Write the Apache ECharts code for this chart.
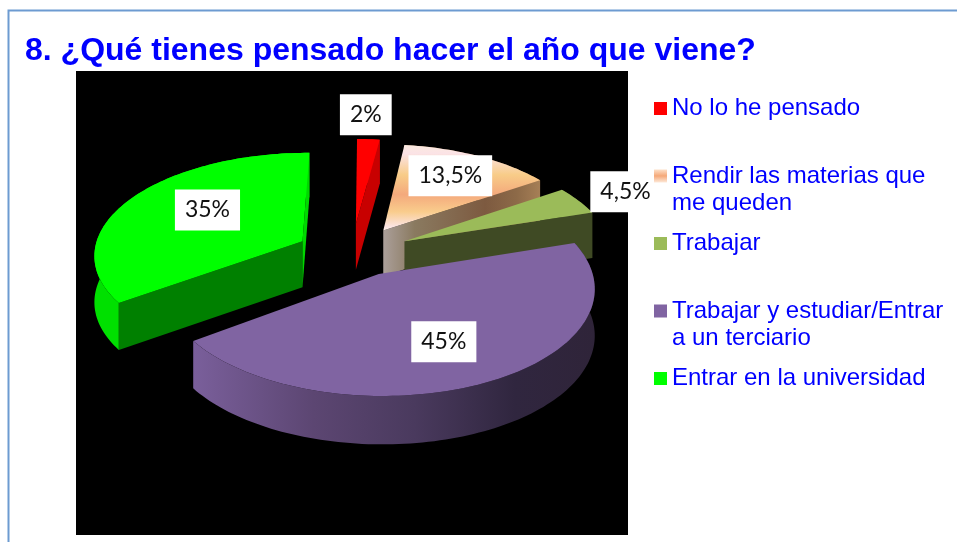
<!DOCTYPE html>
<html>
<head>
<meta charset="utf-8">
<style>html,body{margin:0;padding:0;background:#fff}#c{width:957px;height:542px}</style>
<script src="https://cdn.jsdelivr.net/npm/echarts@6/dist/echarts.min.js"></script>
</head>
<body>
<div id="c"></div>
<script>
const titleText = '8. ¿Qué tienes pensado hacer el año que viene?';
const categories = ['No lo he pensado', 'Rendir las materias que me queden', 'Trabajar', 'Trabajar y estudiar/Entrar a un terciario', 'Entrar en la universidad'];
const legendLines = ['No lo he pensado\n ', 'Rendir las materias que\nme queden', 'Trabajar\n ', 'Trabajar y estudiar/Entrar\na un terciario', 'Entrar en la universidad\n '];
const values = [2, 13.5, 4.5, 45, 35];
const valueLabels = ['2%', '13,5%', '4,5%', '45%', '35%'];

// view of the tilted disc
const V = {cx: 352, cy: 250, R: 208, tilt: 0.486, q: 0.12, depth: 46, startDeg: 0.5};
const explodeBy = [[4, -55], [32, -41], [53, -18], [26, 48], [-50, -18]];
const drawOrder = [3, 4, 5, 6, 2];
const labelAt = [[1.22, -5, -8], [0.62, 6, -7], [1.0, 47, -9], [0.5, 13, 17], [0.55, 1, -7]];
const lin = (dir, stops) => ({type: 'linear', x: 0, y: 0, x2: dir ? 1 : 0, y2: dir ? 0 : 1,
  colorStops: stops.map(s => ({offset: s[0], color: s[1]}))});
const peachStops = [[0, '#fbeadf'], [0.1, '#fbe3e6'], [0.35, '#f8cc88'], [0.58, '#f4a97c'], [0.78, '#f9cc8c'], [0.95, '#fbe3e0'], [1, '#fdeee6']];
const looks = [
  {top: '#ff0000', wall: '#c80000', endWall: '#c80000', rim: '#d80000'},
  {top: lin(0, peachStops), wall: '#ab9f9a', endWall: lin(1, [[0, '#ab9f9a'], [0.2, '#8a7a60'], [0.65, '#7d5a40'], [0.85, '#8d6a48'], [1, '#a67f56']]), rim: '#8d6a48'},
  {top: '#9bbb59', wall: '#3f4a24', endWall: '#3f4a24', rim: '#4f5e2d'},
  {top: '#8064a2', wall: '#3a2d4c', endWall: '#3a2d4c', rim: lin(1, [[0, '#7a5f9b'], [0.3, '#5c4672'], [0.55, '#4a3a5e'], [0.8, '#30263f'], [1, '#2f2439']])},
  {top: '#00ff00', wall: '#008000', endWall: '#00d800', rim: '#00e000'}
];

const project = (X, Y, h) => {
  const s = 1 / (1 - V.q * Y / V.R);
  return [V.cx + X * s, V.cy + Y * V.tilt * s + h * (1 + (s - 1) * 0.3)];
};
const total = values.reduce((a, b) => a + b, 0);
function sliceShape(i) {
  const before = values.slice(0, i).reduce((a, b) => a + b, 0);
  const a0 = (V.startDeg + before / total * 360) * Math.PI / 180;
  const a1 = a0 + values[i] / total * 2 * Math.PI;
  const mid = (a0 + a1) / 2, ox = explodeBy[i][0], oy = explodeBy[i][1];
  const at = (ang, r, h) => project(ox + r * Math.sin(ang), oy - r * Math.cos(ang), h);
  const n = Math.max(4, Math.ceil((a1 - a0) * 40));
  const angs = [];
  for (let k = 0; k <= n; k++) angs.push(a0 + (a1 - a0) * k / n);
  return {at, angs, mid};
}
function renderSlice(i) {
  return function (params, api) {
    api.value(0);
    const {at, angs, mid} = sliceShape(i);
    const H = V.depth, look = looks[i], kids = [];
    const poly = (pts, fill) => kids.push({type: 'polygon', shape: {points: pts}, style: {fill: fill, stroke: null}});
    const topArc = angs.map(a => at(a, V.R, 0));
    const lowArc = angs.map(a => at(a, V.R, H));
    poly(topArc.concat(lowArc.slice().reverse()), look.rim);
    const apexT = at(0, 0, 0), apexB = at(0, 0, H);
    const first = topArc[0], last = topArc[topArc.length - 1];
    if (first[0] < apexT[0] - 0.5) poly([apexT, first, lowArc[0], apexB], look.wall);
    if (last[0] > apexT[0] + 0.5) poly([apexT, last, lowArc[lowArc.length - 1], apexB], look.endWall);
    poly([apexT].concat(topArc), look.top);
    const la = labelAt[i], c = at(mid, V.R * la[0], 0);
    kids.push({type: 'text', z2: 50, style: {
      text: valueLabels[i], x: c[0] + la[1], y: c[1] + la[2], align: 'center', verticalAlign: 'middle',
      fontFamily: 'Lato', fontSize: 23, lineHeight: 21, fill: '#111', backgroundColor: '#fff', padding: [10, 10]
    }});
    return {type: 'group', children: kids};
  };
}
const iconPath = 'path://M0 0H13V13H0Z M0 40L13 40Z';
const iconPeach = lin(0, [[0, '#fde0c8'], [0.16, '#f5a878'], [0.325, '#fde9d9'], [1, '#fde9d9']]);

const chart = echarts.init(document.getElementById('c'), null, {renderer: 'canvas'});
chart.setOption({
  animation: false,
  backgroundColor: '#ffffff',
  title: {text: titleText, left: 25, top: 35, padding: 0,
    textStyle: {color: '#0000ff', fontFamily: 'Liberation Sans', fontWeight: 'bold', fontSize: 32}},
  legend: {
    z: 20, orient: 'vertical', left: 654, top: 95, padding: 0, itemGap: 13.5, itemWidth: 13, itemHeight: 40, icon: iconPath,
    selectedMode: false,
    data: categories.map((c, i) => ({name: c, itemStyle: {color: i === 1 ? iconPeach : ['#ff0000', null, '#9bbb59', '#8064a2', '#00ff00'][i], borderWidth: 0}})),
    formatter: n => legendLines[categories.indexOf(n)],
    textStyle: {color: '#0000ff', fontFamily: 'Liberation Sans', fontSize: 24, lineHeight: 27}
  },
  graphic: [
    {type: 'rect', z: 0, shape: {x: 8.5, y: 10.5, width: 1200, height: 800}, style: {fill: '#fff', stroke: '#6d9bd1', lineWidth: 2}},
    {type: 'rect', z: 1, shape: {x: 76, y: 71, width: 552, height: 464}, style: {fill: '#000'}}
  ],
  series: categories.map((c, i) => ({
    type: 'custom', name: c, coordinateSystem: 'none', z: drawOrder[i],
    itemStyle: {color: typeof looks[i].top === 'string' ? looks[i].top : '#f4a97c'},
    data: [[values[i]]], renderItem: renderSlice(i), silent: true
  }))
});
</script>
</body>
</html>
